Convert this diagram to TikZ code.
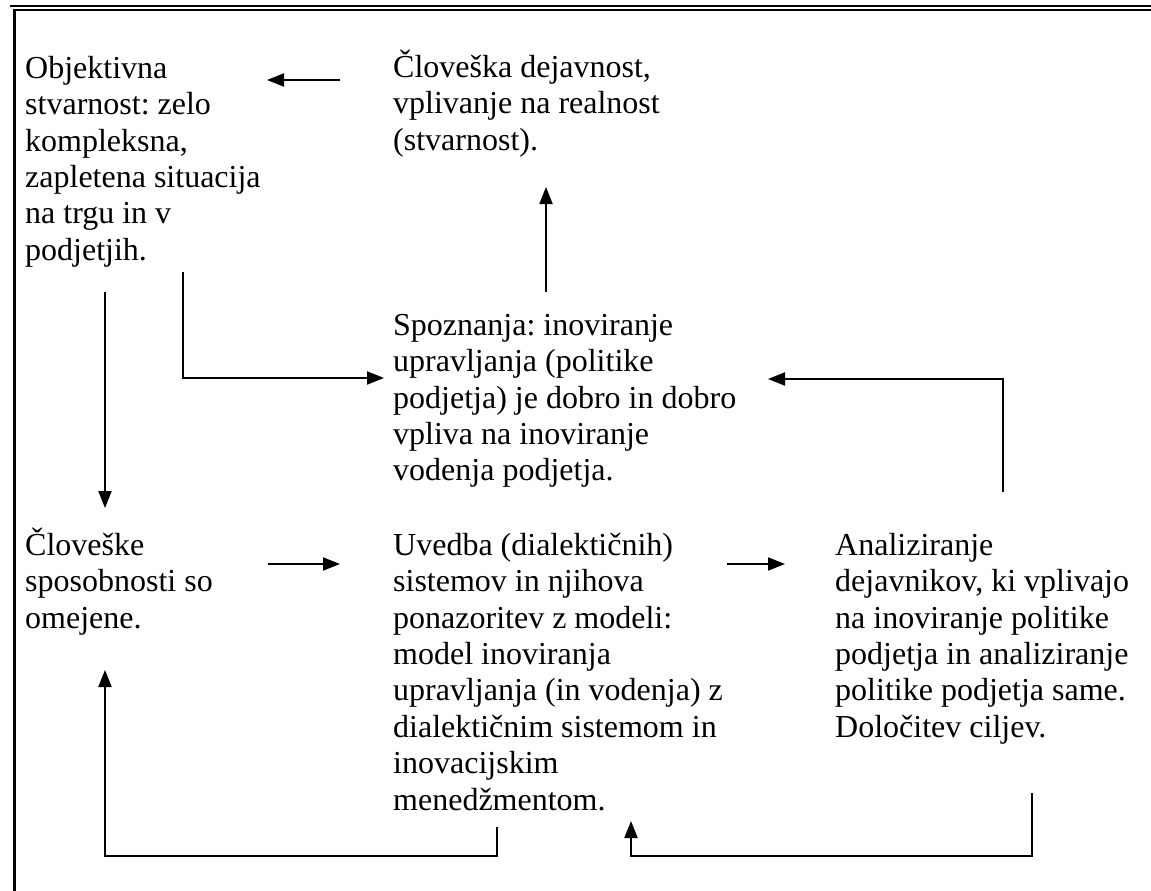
\documentclass[tikz,border=0pt]{standalone}
\usepackage{fontspec}
\setmainfont{Liberation Serif}
\usetikzlibrary{arrows.meta}
\frenchspacing

\tikzset{
  txt/.style={anchor=north west, inner sep=0pt, align=left,
    font=\fontsize{32}{36.4}\selectfont},
  link/.style={line width=1.9pt, -{Triangle[length=17pt,width=13pt]}},
  frame/.style={line width=2.4pt}
}
% first-line strut so that every block's top sits 32pt above its first baseline
\newcommand{\fl}{\rule{0pt}{32pt}}

\begin{document}
\begin{tikzpicture}[x=1pt,y=-1pt]
  \useasboundingbox (0,0) rectangle (1151,891);

  % outer frame: double rule on top, heavy rule on the left
  \draw[line width=2pt] (10,6) -- (1151,6);
  \draw[frame] (13,10) -- (1151,10);
  \draw[line width=3pt] (14.5,9) -- (14.5,891);

  % text blocks
  \node[txt] (obj) at (25,46) {\fl Objektivna\\stvarnost: zelo\\kompleksna,\\zapletena situacija\\na trgu in v\\podjetjih.};
  \node[txt] (dej) at (393,45) {\fl Človeška dejavnost,\\vplivanje na realnost\\(stvarnost).};
  \node[txt] (spo) at (393,303) {\fl Spoznanja: inoviranje\\upravljanja (politike\\podjetja) je dobro in dobro\\vpliva na inoviranje\\vodenja podjetja.};
  \node[txt] (spos) at (25,523) {\fl Človeške\\sposobnosti so\\omejene.};
  \node[txt] (uve) at (393,523) {\fl Uvedba (dialektičnih)\\sistemov in njihova\\ponazoritev z modeli:\\model inoviranja\\upravljanja (in vodenja) z\\dialektičnim sistemom in\\inovacijskim\\menedžmentom.};
  \node[txt] (ana) at (835,523) {\fl Analiziranje\\dejavnikov, ki vplivajo\\na inoviranje politike\\podjetja in analiziranje\\politike podjetja same.\\Določitev ciljev.};

  % connector end points
  \coordinate (dejL) at (340,80);
  \coordinate (objR) at (267,80);
  \coordinate (spoT) at (546,292);
  \coordinate (dejB) at (546,187);
  \coordinate (objB1) at (183,272);
  \coordinate (spoL) at (384,378);
  \coordinate (objB2) at (105,292);
  \coordinate (sposT) at (105,508);
  \coordinate (sposR) at (268,564);
  \coordinate (uveL) at (340,564);
  \coordinate (uveR) at (727,564);
  \coordinate (anaL) at (785,564);
  \coordinate (anaT) at (1003,492);
  \coordinate (spoR) at (768,379);
  \coordinate (uveB) at (497,827);
  \coordinate (sposB) at (105,670);
  \coordinate (anaB) at (1032,793);
  \coordinate (uveB2) at (631,821);

  % connectors
  \draw[link] (dejL) -- (objR);
  \draw[link] (spoT) -- (dejB);
  \draw[link] (objB1) |- (spoL);
  \draw[link] (objB2) -- (sposT);
  \draw[link] (sposR) -- (uveL);
  \draw[link] (uveR) -- (anaL);
  \draw[link] (anaT) |- (spoR);
  \draw[link] (uveB) -- (uveB |- 0,856) -- (sposB |- 0,856) -- (sposB);
  \draw[link] (anaB) -- (anaB |- 0,856) -- (uveB2 |- 0,856) -- (uveB2);
\end{tikzpicture}
\end{document}
